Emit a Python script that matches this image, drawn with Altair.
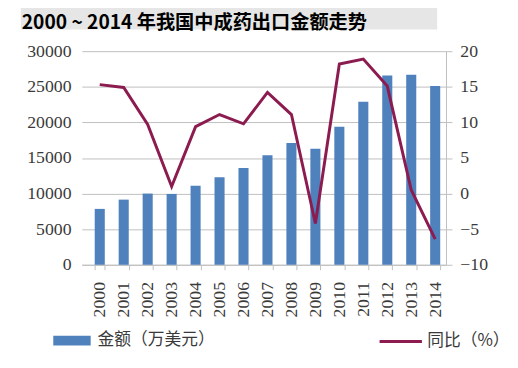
import altair as alt
import pandas as pd

title_text = "2000 ~ 2014 年我国中成药出口金额走势"
years = ["2000", "2001", "2002", "2003", "2004", "2005", "2006", "2007",
         "2008", "2009", "2010", "2011", "2012", "2013", "2014"]
amount = [7850, 9150, 10000, 9950, 11100, 12300, 13600, 15400,
          17100, 16300, 19400, 22900, 26600, 26700, 25100]
yoy = [15.3, 14.9, 9.7, 1.0, 9.4, 11.1, 9.8, 14.2,
       11.1, -4.2, 18.2, 18.9, 15.1, 0.5, -6.4]
bar_name = "金额（万美元）"
line_name = "同比（%）"
left_ticks = [0, 5000, 10000, 15000, 20000, 25000, 30000]
right_ticks = [-10, -5, 0, 5, 10, 15, 20]

df = pd.DataFrame({"year": years, "amount": amount, "yoy": yoy,
                   "s1": [bar_name] * len(years), "s2": [line_name] * len(years)})

NUM_FONT = "Liberation Serif"
CJK_FONT = "Noto Sans CJK SC"
TXT = "#3a3a3a"
GRID = "#bfbfbf"

xscale = alt.Scale(paddingInner=0.58, paddingOuter=0.39, align=0.69)
xenc = alt.X("year:O", scale=xscale, title=None,
             axis=alt.Axis(labelAngle=270, labelFont=NUM_FONT, labelFontSize=18,
                           labelColor=TXT, domainColor=GRID, tickColor=GRID,
                           tickSize=5, labelPadding=12, tickBand="extent"))

bars = alt.Chart(df).mark_bar(color="#4f81bd").encode(
    x=xenc,
    y=alt.Y("amount:Q", scale=alt.Scale(domain=[0, 30000], nice=False), title=None,
            axis=alt.Axis(orient="left", values=left_ticks, format="d", grid=True,
                          gridColor=GRID, domain=False, ticks=False, labelPadding=11,
                          labelFont=NUM_FONT, labelFontSize=18, labelColor=TXT)),
    color=alt.Color("s1:N", scale=alt.Scale(range=["#4f81bd"]),
                    legend=alt.Legend(orient="none", legendX=-29, legendY=275, title=None,
                                      padding=0,
                                      symbolType="M-1,-0.263L1,-0.263L1,0.263L-1,0.263Z",
                                      symbolSize=1444, symbolStrokeWidth=0,
                                      labelFont=CJK_FONT, labelFontSize=17,
                                      labelColor=TXT, labelOffset=7)),
)

line = alt.Chart(df).mark_line(strokeWidth=3).encode(
    x=xenc,
    y=alt.Y("yoy:Q", scale=alt.Scale(domain=[-10, 20], nice=False), title=None,
            axis=alt.Axis(orient="right", values=right_ticks, grid=False,
                          domainColor=GRID, tickColor=GRID, tickSize=6, labelPadding=8,
                          labelFont=NUM_FONT, labelFontSize=18, labelColor=TXT)),
    stroke=alt.Stroke("s2:N", scale=alt.Scale(range=["#8c1b50"]),
                      legend=alt.Legend(orient="none", legendX=301, legendY=272, title=None,
                                        padding=0, symbolType="stroke", symbolSize=1849,
                                        symbolStrokeWidth=3,
                                        labelFont=CJK_FONT, labelFontSize=17,
                                        labelColor=TXT, labelOffset=4)),
)

tdf = pd.DataFrame({"t": [title_text]})
title_bg = alt.Chart(tdf).mark_rect(color="#e6e6e6").encode(
    x=alt.value(-62), x2=alt.value(361), y=alt.value(-45), y2=alt.value(-22))
title = alt.Chart(tdf).mark_text(font=CJK_FONT, fontSize=19.5, fontWeight="bold",
                                 color="#000000", align="left",
                                 baseline="alphabetic").encode(
    text="t:N", x=alt.value(-61), y=alt.value(-23))

chart = alt.layer(title_bg, title, bars, line).resolve_scale(
    y="independent", color="independent"
).properties(
    width=370, height=217,
    autosize=alt.AutoSizeParams(type="none"),
    padding={"left": 75, "top": 41, "right": 65, "bottom": 102},
).configure_view(stroke=None)

chart.save("out.html", embed_options={"renderer": "svg", "actions": False})
